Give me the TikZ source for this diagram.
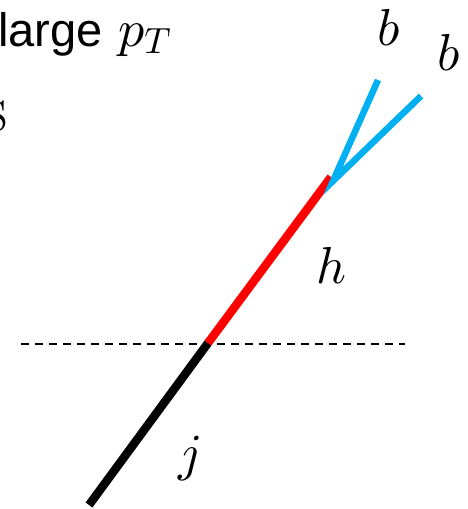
\documentclass[tikz,border=0pt]{standalone}
\usepackage{fontspec}
\DeclareFontShape{OML}{cmm}{m}{it}{<->cmmi10}{}
\DeclareFontShape{OMS}{cmsy}{m}{n}{<->cmsy10}{}
\DeclareFontShape{OT1}{cmr}{m}{n}{<->cmr10}{}
\newfontfamily\arialfont{Liberation Sans}
\definecolor{bblue}{RGB}{0,176,240}
\definecolor{hred}{RGB}{255,0,0}
\tikzset{
  jetline/.style={line width=8.5pt, line cap=butt},
  bline/.style={line width=6.5pt, color=bblue, line cap=butt},
  cutline/.style={line width=2pt, dash pattern=on 8pt off 6pt},
  mathlbl/.style={inner sep=0pt, anchor=base west, font=\fontsize{52}{60}\selectfont},
  txtlbl/.style={inner sep=0pt, anchor=base west, font=\arialfont\fontsize{47}{54}\selectfont}
}
\begin{document}
\begin{tikzpicture}[x=1pt,y=-1pt]
\useasboundingbox (0,0) rectangle (468,509);
\clip (0,0) rectangle (468,509);
\fill[white] (0,0) rectangle (468,509);
% coordinates
\coordinate (jb) at (89,505);
\coordinate (v) at (208,343);
\coordinate (ht) at (331,177);
\coordinate (bv) at (333,181);
\coordinate (b1) at (378,80);
\coordinate (b2) at (421,96);
\coordinate (dl) at (21,344);
\coordinate (dr) at (405,344);
% dashed line
\draw[cutline] (dl) -- (dr);
% jet
\draw[jetline, black] (jb) -- (v);
\draw[jetline, hred] (v) -- (ht);
\draw[bline] (b1) -- (bv) -- (b2);
% labels
\node[txtlbl] (lg) at (-2,46) {large};
\node[mathlbl] (pt) at (118,46) {$p_T$};
\node[inner sep=0pt, anchor=base east, font=\fontsize{70}{80}\selectfont] (s) at (8,131) {s};
\node[mathlbl] (lb1) at (377,45) {$b$};
\node[mathlbl] (lb2) at (437,70) {$b$};
\node[mathlbl] (lh) at (316,283) {$h$};
\node[mathlbl] (lj) at (178,470) {$j$};
\end{tikzpicture}
\end{document}
